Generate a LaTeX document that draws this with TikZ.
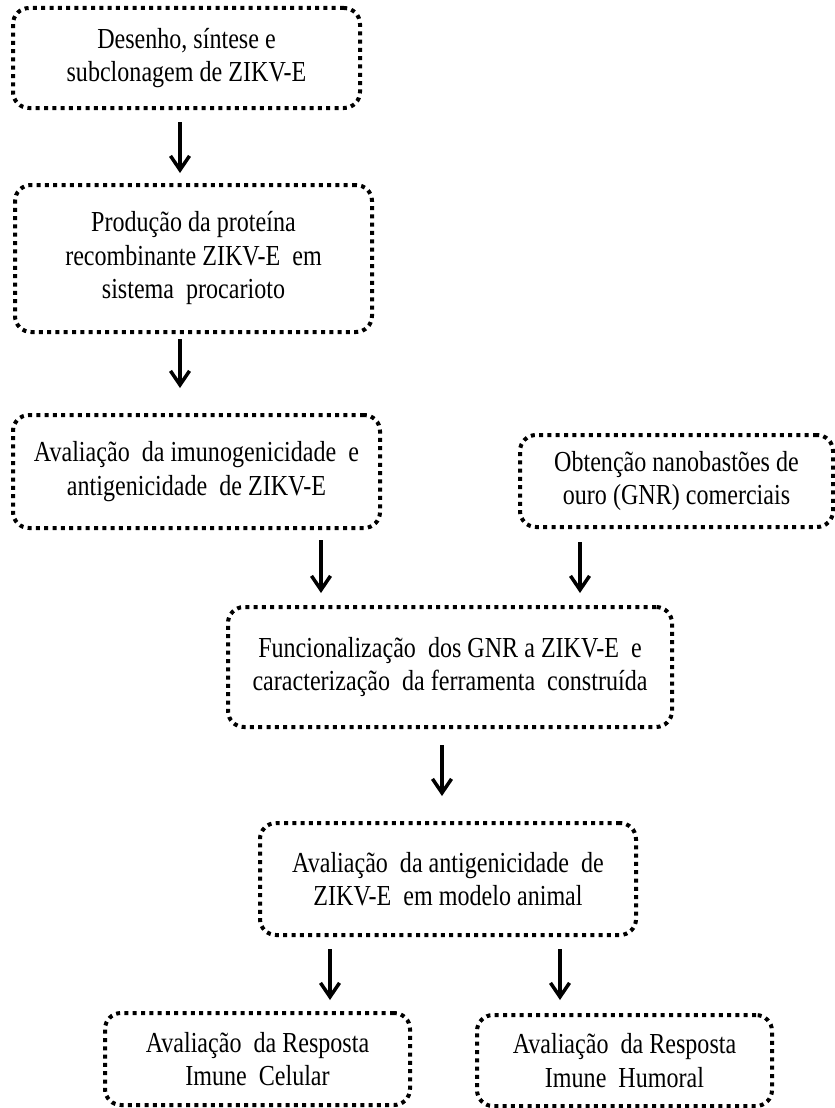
\documentclass[tikz,border=0pt]{standalone}
\usepackage{fontspec}
\setmainfont{Liberation Serif}[FakeStretch=0.83]
\usetikzlibrary{arrows.meta}

\begin{document}
\begin{tikzpicture}[x=1pt, y=-1pt,
    stage/.style={draw, line width=4pt, dash pattern=on 4pt off 4.3pt,
        rounded corners=16pt, align=center, inner sep=0pt,
        font=\fontsize{29}{33.5}\selectfont},
    arr/.style={-{Straight Barb[length=14pt, width=19pt]}, line width=3.5pt}]

    % Frame
    \useasboundingbox (0,0) rectangle (835,1108);

    % Stages
    \node[stage, minimum width=347pt, minimum height=100pt] (b1) at (186.5,58)
        {Desenho, síntese e\\subclonagem de ZIKV-E};
    \node[stage, minimum width=357pt, minimum height=147pt] (b2) at (193.5,258.5)
        {Produção da proteína\\recombinante ZIKV-E~ em\\sistema~ procarioto};
    \node[stage, minimum width=367pt, minimum height=113pt] (b3) at (196.5,471.5)
        {Avaliação~ da imunogenicidade~ e\\antigenicidade~ de ZIKV-E};
    \node[stage, minimum width=313pt, minimum height=92pt] (b4) at (676.5,481)
        {Obtenção nanobastões de\\ouro (GNR) comerciais};
    \node[stage, minimum width=444pt, minimum height=120pt] (b5) at (450,667)
        {Funcionalização~ dos GNR a ZIKV-E~ e\\caracterização~ da ferramenta~ construída};
    \node[stage, minimum width=376pt, minimum height=112pt] (b6) at (448,879)
        {Avaliação~ da antigenicidade~ de\\ZIKV-E~ em modelo animal};
    \node[stage, minimum width=305pt, minimum height=92pt] (b7) at (257.5,1059)
        {Avaliação~ da Resposta\\Imune~ Celular};
    \node[stage, minimum width=295pt, minimum height=91pt] (b8) at (624.5,1060.5)
        {Avaliação~ da Resposta\\Imune~ Humoral};

    % Arrows
    \draw[arr, shorten <=12pt, shorten >=10pt] (b1.south -| 180,0) -- (b2.north -| 180,0);
    \draw[arr, shorten <=5pt, shorten >=25pt] (b2.south -| 180,0) -- (b3.north -| 180,0);
    \draw[arr, shorten <=10pt, shorten >=12pt] (b3.south -| 321,0) -- (b5.north -| 321,0);
    \draw[arr, shorten <=13pt, shorten >=12pt] (b4.south -| 580,0) -- (b5.north -| 580,0);
    \draw[arr, shorten <=16pt, shorten >=25pt] (b5.south -| 442,0) -- (b6.north -| 442,0);
    \draw[arr, shorten <=12pt, shorten >=11pt] (b6.south -| 330,0) -- (b7.north -| 330,0);
    \draw[arr, shorten <=12pt, shorten >=13pt] (b6.south -| 560,0) -- (b8.north -| 560,0);

\end{tikzpicture}
\end{document}
